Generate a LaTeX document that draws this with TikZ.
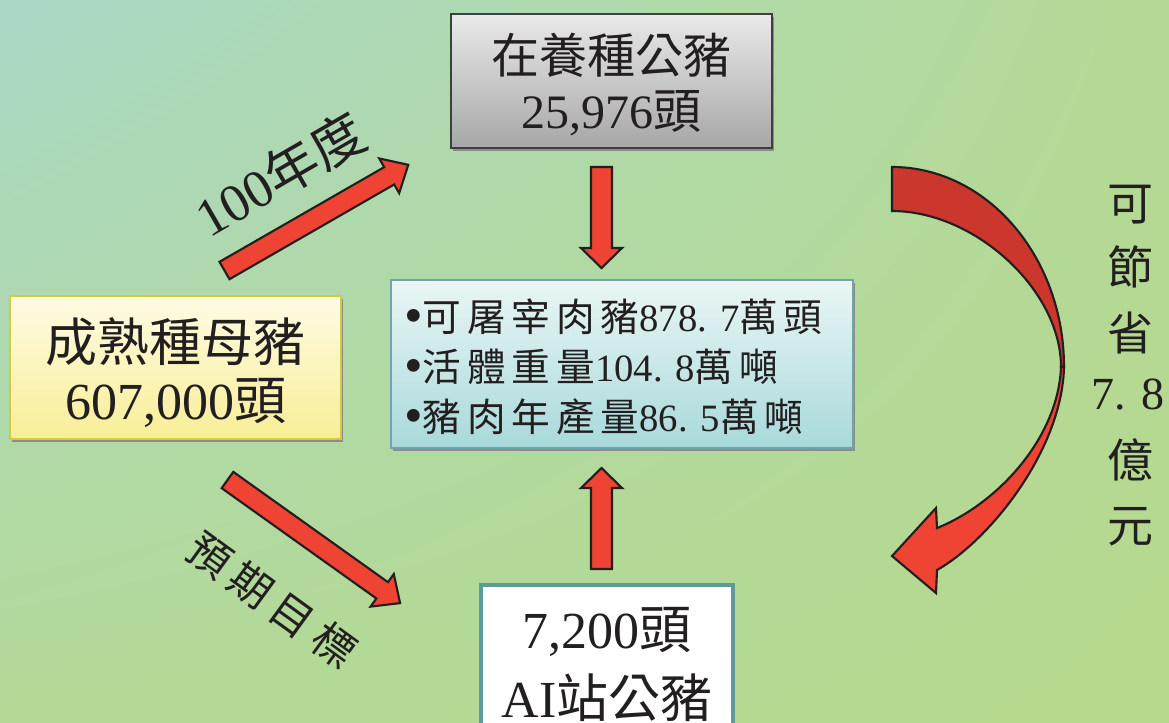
\documentclass[tikz,border=0pt]{standalone}
\usepackage{fontspec}
\setmainfont{Liberation Serif}
\newfontfamily\cjk{Noto Sans CJK TC}
\newfontfamily\cjks[LetterSpace=15]{Noto Sans CJK TC}
\newfontfamily\cjkw[LetterSpace=20]{Noto Sans CJK TC}
\usetikzlibrary{calc,shadings}
\definecolor{bgA}{HTML}{AAD8C6}
\definecolor{bgB}{HTML}{B4D995}
\definecolor{bgC}{HTML}{B3D996}
\definecolor{bgD}{HTML}{B6D98E}
\definecolor{arrred}{HTML}{EF4433}
\definecolor{arrdark}{HTML}{CB372D}
\definecolor{ink}{HTML}{231F20}
\definecolor{grayTop}{HTML}{E9E9E9}
\definecolor{grayBot}{HTML}{A7A7A7}
\definecolor{grayBd}{HTML}{3F3F3F}
\definecolor{yelTop}{HTML}{FFFBE4}
\definecolor{yelBot}{HTML}{F7EE96}
\definecolor{yelBd}{HTML}{D3CA3C}
\definecolor{cyTop}{HTML}{EAF6F5}
\definecolor{cyBot}{HTML}{A8D9DA}
\definecolor{cyBd}{HTML}{70A3AB}
\definecolor{whBd}{HTML}{5E9A9A}
\def\px{0.75pt}
\newcommand\bul{{\fontsize{40}{40}\selectfont\raisebox{-1.5pt}{•}}}
\tikzset{
  boxbase/.style={rectangle, inner sep=0pt, outer sep=0pt},
  shadowbox/.style={fill=black!45, draw=none},
  arrowshape/.style={fill=arrred, draw=ink, line width=1.6pt, line join=miter},
  txt/.style={text=ink, inner sep=0pt},
}
\newcommand\blockarrow[7]{%
  \begin{scope}[shift={(#1,#2)}, rotate=#3]
    \filldraw[arrowshape] (0,-#5) -- ({#4-#7},-#5) -- ({#4-#7},-#6) -- (#4,0) -- ({#4-#7},#6) -- ({#4-#7},#5) -- (0,#5) -- cycle;
  \end{scope}}
\begin{document}
\begin{tikzpicture}[x=0.75pt, y=-0.75pt]
\useasboundingbox (0,0) rectangle (1169,722);
\clip (0,0) rectangle (1169,722);
\shade[upper left=bgA, upper right=bgB, lower left=bgC, lower right=bgD] (0,0) rectangle (1169,722);

% shadows
\fill[shadowbox] (453,17) rectangle (774,151);
\fill[shadowbox] (12,299) rectangle (343,442);
\fill[shadowbox] (393,283) rectangle (855,451);

% boxes
\node[boxbase, top color=grayTop, bottom color=grayBot, draw=grayBd, line width=1.2pt,
  minimum width=321*\px, minimum height=134*\px] (topbox) at (611.5,81) {};
\node[boxbase, top color=yelTop, bottom color=yelBot, draw=yelBd, line width=1.5pt,
  minimum width=331*\px, minimum height=143*\px] (leftbox) at (175.5,367.5) {};
\node[boxbase, top color=cyTop, bottom color=cyBot, draw=cyBd, line width=1.5pt,
  minimum width=462*\px, minimum height=168*\px] (midbox) at (622,364) {};
\node[boxbase, fill=white, draw=whBd, line width=2.4pt,
  minimum width=252*\px, minimum height=180*\px] (botbox) at (607,675) {};

% box texts
\node[txt, font=\fontsize{36}{40}\selectfont] (topA) at (611.5,55) {\cjk 在養種公豬};
\node[txt, font=\fontsize{36}{40}\selectfont] (topB) at (611.5,113) {25,976{\cjk 頭}};
\node[txt, font=\fontsize{39}{44}\selectfont] (leftA) at (175.5,342) {\cjk 成熟種母豬};
\node[txt, font=\fontsize{39}{44}\selectfont] (leftB) at (175.5,403) {607,000{\cjk 頭}};
\node[txt, font=\fontsize{39}{44}\selectfont] (botA) at (607,632) {7,200{\cjk 頭}};
\node[txt, font=\fontsize{39}{44}\selectfont] (botB) at (607,698) {AI{\cjk 站公豬}};

\node[txt, anchor=west, font=\fontsize{29}{32}\selectfont] (m1) at (404,317) {\bul{\cjks 可屠宰肉豬}878. 7{\cjks 萬頭}};
\node[txt, anchor=west, font=\fontsize{29}{32}\selectfont] (m2) at (404,367) {\bul{\cjks 活體重量}104. 8{\cjks 萬噸}};
\node[txt, anchor=west, font=\fontsize{29}{32}\selectfont] (m3) at (404,417) {\bul{\cjks 豬肉年產量}86. 5{\cjks 萬噸}};

% straight arrows
\blockarrow{601.5}{167}{-90}{101}{10.5}{20.5}{20}
\blockarrow{601.5}{569}{90}{101}{10.5}{20.5}{20}
\blockarrow{224.5}{270.5}{29.9}{212}{10}{20}{22}
\blockarrow{227.5}{480}{-35.5}{212}{10}{20}{22}

% rotated labels
\node[txt, rotate=30, font=\fontsize{40}{44}\selectfont] (lbl100) at (280,174) {100{\cjk 年度}};
\node[txt, rotate=-36, font=\fontsize{32}{36}\selectfont] (lblgoal) at (272,600) {\cjkw 預期目標};

% curved arrow
\filldraw[fill=arrdark, draw=ink, line width=1.6pt, line join=miter]
  (892,167) .. controls (987,167) and (1064,257) .. (1064,367)
  -- (1061,367) .. controls (1061,290) and (975,211) .. (892,211) -- cycle;
\filldraw[arrowshape]
  (1064,367) .. controls (1062,450) and (990,540) .. (937,570)
  -- (936,593) -- (892,556) -- (936,508) -- (937,528)
  .. controls (995,505) and (1058,440) .. (1061,367) -- cycle;

% right vertical label
\node[txt, font=\fontsize{34.5}{38}\selectfont] (r1) at (1130,205) {\cjk 可};
\node[txt, font=\fontsize{34.5}{38}\selectfont] (r2) at (1130,267) {\cjk 節};
\node[txt, font=\fontsize{34.5}{38}\selectfont] (r3) at (1130,333) {\cjk 省};
\node[txt, font=\fontsize{34.5}{38}\selectfont] (r4) at (1128,395) {7. 8};
\node[txt, font=\fontsize{34.5}{38}\selectfont] (r5) at (1130,460) {\cjk 億};
\node[txt, font=\fontsize{34.5}{38}\selectfont] (r6) at (1130,527) {\cjk 元};
\end{tikzpicture}
\end{document}
